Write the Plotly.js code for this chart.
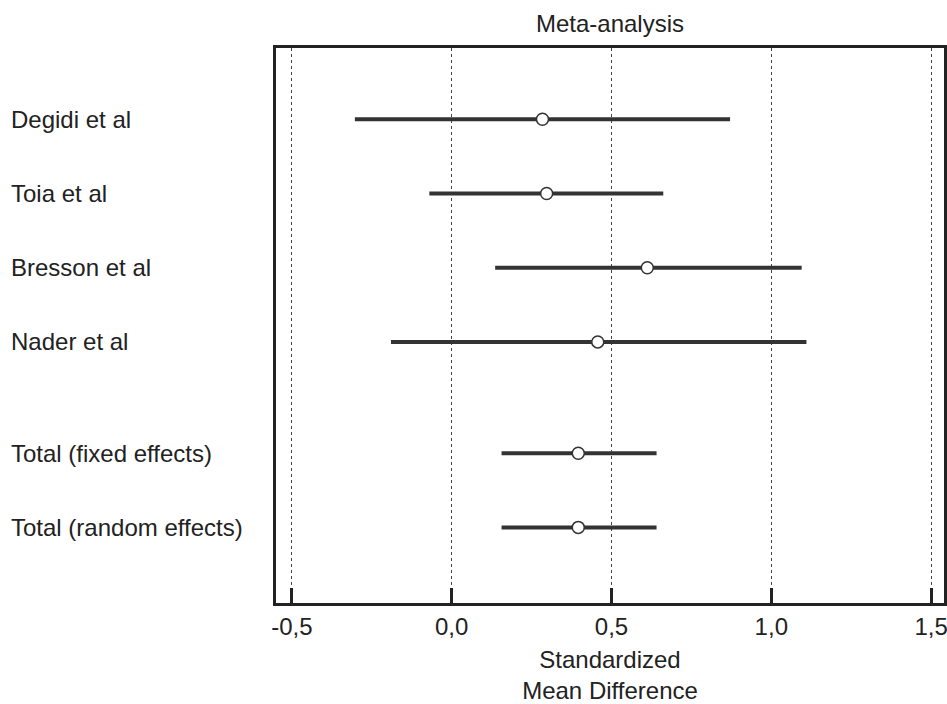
<!DOCTYPE html>
<html>
<head>
<meta charset="utf-8">
<script src="https://cdn.plot.ly/plotly-3.0.1.min.js"></script>
<style>html,body{margin:0;padding:0;background:#fff;}#chart{width:947px;height:704px;}</style>
</head>
<body>
<div id="chart"></div>
<script>
// Data
const studies = ["Degidi et al", "Toia et al", "Bresson et al", "Nader et al", "Total (fixed effects)", "Total (random effects)"];
const rowPos  = [0, 1, 2, 3, 4.5, 5.5];
const smd     = [0.284, 0.297, 0.612, 0.457, 0.396, 0.396];
const ciLow   = [-0.303, -0.070, 0.136, -0.190, 0.156, 0.156];
const ciHigh  = [0.871, 0.662, 1.095, 1.110, 0.641, 0.641];
const tickVals = [-0.5, 0, 0.5, 1.0, 1.5];
const tickText = ["-0,5", "0,0", "0,5", "1,0", "1,5"];

const FONT = "Liberation Sans, Arial, sans-serif";
const INK = "#222222";
const FS = 24;

const traces = [];
// confidence interval lines
for (let i = 0; i < studies.length; i++) {
  traces.push({
    type: "scatter", mode: "lines",
    x: [ciLow[i], ciHigh[i]], y: [rowPos[i], rowPos[i]],
    line: {color: "#333333", width: 4},
    hoverinfo: "skip", showlegend: false
  });
}
// point estimates
traces.push({
  type: "scatter", mode: "markers",
  x: smd, y: rowPos, text: studies,
  marker: {symbol: "circle", size: 12, color: "#ffffff", line: {color: "#333333", width: 1.5}},
  showlegend: false
});

const annotations = studies.map((s, i) => ({
  text: s, xref: "paper", x: -0.400, xanchor: "left",
  yref: "y", y: rowPos[i], yanchor: "middle",
  showarrow: false, font: {family: FONT, size: FS, color: INK}
}));

const layout = {
  width: 947, height: 704,
  margin: {l: 276, r: 3, t: 48, b: 101, pad: 0},
  paper_bgcolor: "#ffffff", plot_bgcolor: "#ffffff",
  title: {
    text: "Meta-analysis",
    font: {family: FONT, size: FS, color: INK},
    x: 0.5, xref: "paper", xanchor: "center",
    y: 0.966, yref: "container", yanchor: "middle"
  },
  xaxis: {
    range: [-0.5498, 1.5404],
    tickmode: "array", tickvals: tickVals, ticktext: tickText,
    ticks: "inside", ticklen: 15, tickwidth: 3, tickcolor: INK,
    tickfont: {family: FONT, size: FS, color: INK},
    ticklabeloverflow: "allow",
    showline: true, linewidth: 3, linecolor: INK, mirror: true,
    showgrid: true, gridcolor: "#444444", gridwidth: 1, griddash: "3px,3px",
    zeroline: false,
    title: {text: "Standardized<br>Mean Difference", font: {family: FONT, size: FS, color: INK}, standoff: 17},
    fixedrange: true
  },
  yaxis: {
    range: [6.519, -0.961],
    showticklabels: false, ticks: "",
    showline: true, linewidth: 3, linecolor: INK, mirror: true,
    showgrid: false, zeroline: false, fixedrange: true
  },
  annotations: annotations,
  showlegend: false
};

Plotly.newPlot("chart", traces, layout, {displayModeBar: false, staticPlot: true});
</script>
</body>
</html>
